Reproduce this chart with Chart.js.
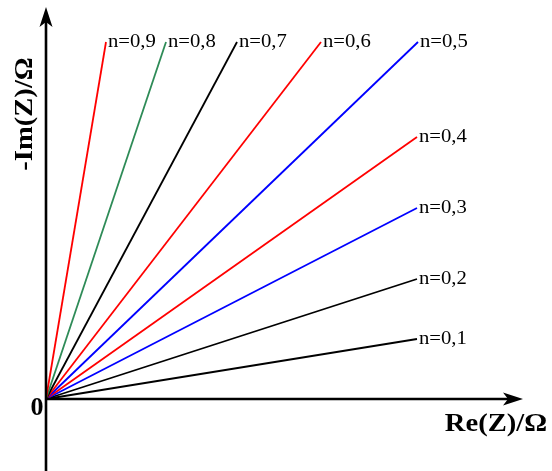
<!DOCTYPE html>
<html>
<head>
<meta charset="utf-8">
<script src="https://cdn.jsdelivr.net/npm/chart.js@4"></script>
<style>
  html, body { margin: 0; padding: 0; background: #fff; }
  #wrap { width: 552px; height: 471px; }
</style>
</head>
<body>
<div id="wrap"><canvas id="cpe"></canvas></div>
<script>
// constant phase element lines, end points
const nLabels = ['n=0,9', 'n=0,8', 'n=0,7', 'n=0,6', 'n=0,5', 'n=0,4', 'n=0,3', 'n=0,2', 'n=0,1'];
const endRe = [60, 120, 191, 275, 372, 371, 371, 371, 371];
const endIm = [357, 357, 357, 357, 357, 262, 191, 120, 60];
const lineColors = ['#ff0000', '#2e8b57', '#000000', '#ff0000', '#0000ff', '#ff0000', '#0000ff', '#000000', '#000000'];

// axis extents (same units as the data)
const xAxisEnd = 477;
const yAxisTop = 392;
const yAxisBottom = -72;

const datasets = nLabels.map((lbl, i) => ({
  label: lbl,
  data: [{ x: 0, y: 0 }, { x: endRe[i], y: endIm[i] }],
  showLine: true,
  borderColor: lineColors[i],
  borderWidth: 1.8,
  pointRadius: 0,
  fill: false
}));

function arrowHead(ctx, tipX, tipY, dirX, dirY) {
  const len = 20, half = 6.5, back = 5;
  const px = -dirY, py = dirX;
  ctx.beginPath();
  ctx.moveTo(tipX, tipY);
  ctx.lineTo(tipX - dirX * len + px * half, tipY - dirY * len + py * half);
  ctx.lineTo(tipX - dirX * (len - back), tipY - dirY * (len - back));
  ctx.lineTo(tipX - dirX * len - px * half, tipY - dirY * len - py * half);
  ctx.closePath();
  ctx.fill();
}

// text drawn a little wider than the font, like the reference
function wideText(ctx, txt, x, y, stretch) {
  ctx.save();
  ctx.translate(x, y);
  ctx.scale(stretch, 1);
  ctx.fillText(txt, 0, 0);
  ctx.restore();
}

const axesPlugin = {
  id: 'axesPlugin',
  afterDatasetsDraw(chart) {
    const ctx = chart.ctx;
    const sx = chart.scales.x, sy = chart.scales.y;
    const ox = sx.getPixelForValue(0), oy = sy.getPixelForValue(0);
    const xEnd = sx.getPixelForValue(xAxisEnd);
    const yTop = sy.getPixelForValue(yAxisTop);
    const yBot = sy.getPixelForValue(yAxisBottom);

    ctx.save();
    ctx.strokeStyle = '#000';
    ctx.fillStyle = '#000';
    ctx.lineWidth = 2.6;
    ctx.beginPath();
    ctx.moveTo(ox, yBot);
    ctx.lineTo(ox, yTop + 12);
    ctx.moveTo(ox, oy);
    ctx.lineTo(xEnd - 12, oy);
    ctx.stroke();
    arrowHead(ctx, ox, yTop, 0, -1);
    arrowHead(ctx, xEnd, oy, 1, 0);

    // line labels
    ctx.font = '18px "Liberation Serif", "Times New Roman", serif';
    ctx.textBaseline = 'middle';
    ctx.textAlign = 'left';
    nLabels.forEach((lbl, i) => {
      wideText(ctx, lbl, sx.getPixelForValue(endRe[i]) + 2, sy.getPixelForValue(endIm[i]), 1.15);
    });

    // axis titles
    ctx.font = 'bold 26px "Liberation Serif", "Times New Roman", serif';
    ctx.textAlign = 'center';
    wideText(ctx, '0', ox - 9, oy + 9, 1.0);
    wideText(ctx, 'Re(Z)/\u03A9', xEnd - 27, oy + 25, 1.1);
    ctx.translate(ox - 21, sy.getPixelForValue(285));
    ctx.rotate(-Math.PI / 2);
    wideText(ctx, '-Im(Z)/\u03A9', 0, 0, 1.1);
    ctx.restore();
  }
};

new Chart(document.getElementById('cpe'), {
  type: 'scatter',
  data: { datasets: datasets },
  options: {
    responsive: true,
    maintainAspectRatio: false,
    animation: false,
    layout: { padding: 0 },
    plugins: {
      legend: { display: false },
      tooltip: { enabled: false }
    },
    scales: {
      x: { type: 'linear', min: -46, max: 506, display: false },
      y: { type: 'linear', min: -72, max: 399, display: false }
    }
  },
  plugins: [axesPlugin]
});
</script>
</body>
</html>
